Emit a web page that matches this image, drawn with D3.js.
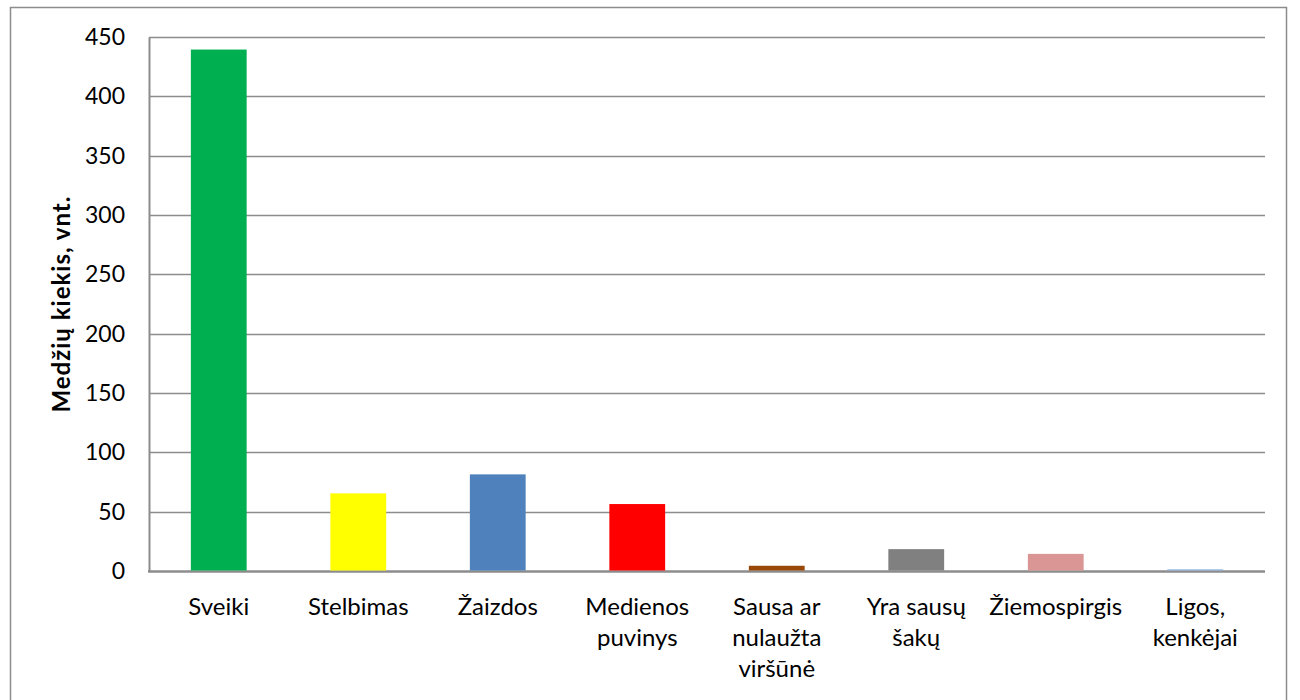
<!DOCTYPE html>
<html>
<head>
<meta charset="utf-8">
<script src="https://cdn.jsdelivr.net/npm/d3@7"></script>
<style>
  body { margin: 0; background: #fff; }
  svg { display: block; font-family: Lato, "Open Sans", sans-serif; }
</style>
</head>
<body>
<div id="chart"></div>
<script>
// categories, values and bar colours
const categories = [
    ['Sveiki'],
    ['Stelbimas'],
    ['Žaizdos'],
    ['Medienos', 'puvinys'],
    ['Sausa ar', 'nulaužta', 'viršūnė'],
    ['Yra sausų', 'šakų'],
    ['Žiemospirgis'],
    ['Ligos,', 'kenkėjai']
];
const values = [439, 65, 81, 56, 4, 18, 14, 1];
const colors = ['#00b050', '#ffff00', '#4f81bd', '#ff0000', '#984807', '#808080', '#d99694', '#8eb4e3'];
const yTicks = [0, 50, 100, 150, 200, 250, 300, 350, 400, 450];
const yTitle = 'Medžių kiekis, vnt.';

const width = 1300, height = 700;
const margin = { top: 37, right: 35, bottom: 129, left: 149 };

const svg = d3.select('#chart')
    .append('svg')
    .attr('width', width)
    .attr('height', height);

// outer chart frame
svg.append('rect')
    .attr('x', 10.5)
    .attr('y', 7.5)
    .attr('width', 1276)
    .attr('height', 700)
    .attr('fill', 'none')
    .attr('stroke', '#8c8c8c')
    .attr('stroke-width', 1.5);

const x = d3.scaleBand()
    .domain(d3.range(categories.length))
    .range([margin.left, width - margin.right])
    .paddingInner(0.6)
    .paddingOuter(0.3);

const y = d3.scaleLinear()
    .domain([0, 450])
    .range([height - margin.bottom, margin.top]);

// gridlines
svg.append('g')
    .selectAll('line')
    .data(yTicks.filter(d => d > 0))
    .join('line')
    .attr('x1', margin.left)
    .attr('x2', width - margin.right)
    .attr('y1', d => Math.round(y(d)) + 0.5)
    .attr('y2', d => Math.round(y(d)) + 0.5)
    .attr('stroke', '#8c8c8c')
    .attr('stroke-width', 1.5);

// x axis line (under the bars so tiny bars stay visible)
svg.append('line')
    .attr('x1', margin.left - 1)
    .attr('x2', width - margin.right)
    .attr('y1', y(0) + 0.5)
    .attr('y2', y(0) + 0.5)
    .attr('stroke', '#8c8c8c')
    .attr('stroke-width', 2.5);

// bars
svg.append('g')
    .selectAll('rect')
    .data(values)
    .join('rect')
    .attr('x', (d, i) => x(i))
    .attr('y', d => y(d) - 0.5)
    .attr('width', x.bandwidth())
    .attr('height', d => y(0) - y(d))
    .attr('fill', (d, i) => colors[i]);

// y axis
const yAxis = svg.append('g')
    .attr('transform', `translate(${margin.left},0)`)
    .call(d3.axisLeft(y).tickValues(yTicks).tickSize(0).tickPadding(24));
yAxis.select('.domain').attr('stroke', '#8c8c8c').attr('stroke-width', 2);
yAxis.selectAll('text')
    .attr('font-size', 23)
    .attr('font-family', 'Lato, sans-serif')
    .attr('fill', '#000');

// category labels (multi-line)
const labels = svg.append('g')
    .selectAll('text')
    .data(categories)
    .join('text')
    .attr('text-anchor', 'middle')
    .attr('font-size', 24)
    .attr('fill', '#000')
    .attr('transform', (d, i) => `translate(${x(i) + x.bandwidth() / 2},${y(0) + 44})`);
labels.selectAll('tspan')
    .data(d => d)
    .join('tspan')
    .attr('x', 0)
    .attr('dy', (d, i) => i === 0 ? 0 : 31)
    .text(d => d);

// y title
svg.append('text')
    .attr('transform', `translate(70,${(margin.top + y(0)) / 2}) rotate(-90)`)
    .attr('text-anchor', 'middle')
    .attr('font-size', 24)
    .attr('font-weight', 'bold')
    .attr('letter-spacing', 1)
    .attr('fill', '#000')
    .text(yTitle);
</script>
</body>
</html>
